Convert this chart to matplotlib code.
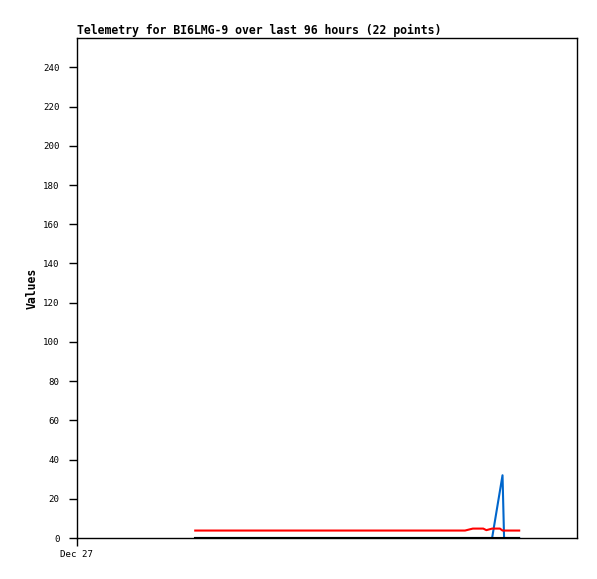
import matplotlib
matplotlib.use("Agg")
from matplotlib import pyplot as plt

# hours after Dec 27 00:00 for each of the 22 points
hours = [22.7, 27.0, 32.0, 37.5, 43.0, 48.5, 54.0, 59.5, 65.0, 70.0, 72.5,
         74.5, 76.0, 78.0, 78.6, 79.7, 81.2, 81.7, 82.0, 83.0, 84.0, 84.9]
red_vals = [3.8, 3.8, 3.8, 3.8, 3.8, 3.8, 3.8, 3.8, 3.8, 3.8, 3.8,
            3.8, 4.8, 4.8, 4.0, 4.8, 4.8, 3.8, 3.8, 3.8, 3.8, 3.8]
blue_vals = [0, 0, 0, 0, 0, 0, 0, 0, 0, 0, 0,
             0, 0, 0, 0, 0, 24, 32, 0, 0, 0, 0]
black_vals = [0] * 22

x_ticks = [0]
x_labels = ["Dec 27"]
y_ticks = list(range(0, 241, 20))

font = "DejaVu Sans Mono"

fig = plt.figure(figsize=(5.97, 5.79), dpi=100)
ax = fig.add_axes([77 / 597, 41 / 579, 500 / 597, 500 / 579])

ax.plot(hours, blue_vals, c="#0066cc", lw=1.5)
ax.plot(hours, red_vals, c="#ff0000", lw=1.5)
ax.plot(hours, black_vals, c="black", lw=1.5)

ax.set_xlim(0, 96)
ax.set_ylim(0, 255)
ax.set_xticks(x_ticks)
ax.set_xticklabels(x_labels, family=font, fontsize=6.6)
ax.set_yticks(y_ticks)
ax.set_yticklabels([str(v) for v in y_ticks], family=font, fontsize=6.6)
ax.tick_params(direction="out", length=6, width=1)
ax.tick_params(axis="y", pad=6.5)
ax.tick_params(axis="x", pad=2.5)

for s in ax.spines.values():
    s.set_linewidth(1)

ax.set_title("Telemetry for BI6LMG-9 over last 96 hours (22 points)",
             family=font, fontweight="bold", fontsize=8.3, loc="left", pad=3)
ax.set_ylabel("Values", family=font, fontweight="bold", fontsize=8.3, labelpad=3)

fig.savefig("out.png", dpi=100)
